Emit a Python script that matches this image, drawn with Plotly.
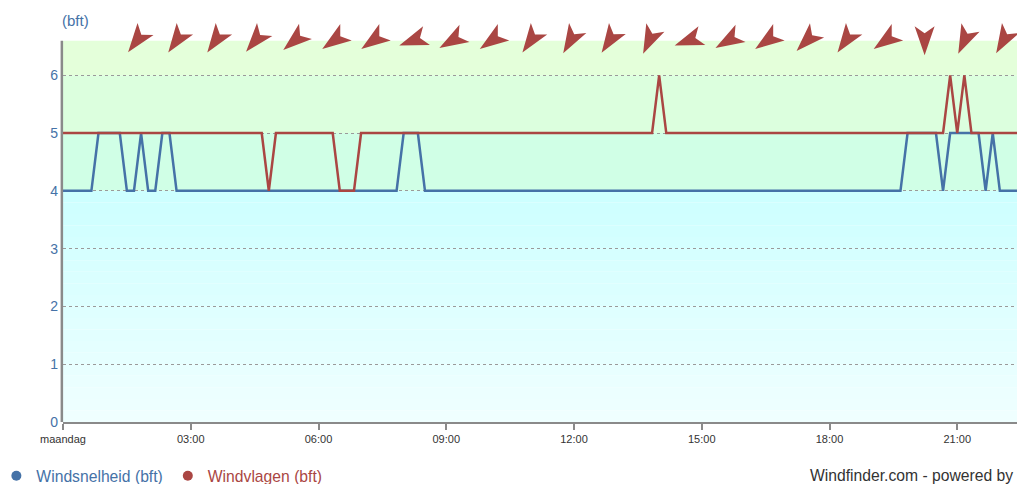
import math
import plotly.graph_objects as go

# ---------------- data ----------------
# 10-minute samples from 00:00 ("maandag") to 22:30
sample_minutes = list(range(0, 1360, 10))

# Windsnelheid (bft), one row per hour (6 samples)
wind_speed = [
    4, 4, 4, 4, 4, 5,
    5, 5, 5, 4, 4, 5,
    4, 4, 5, 5, 4, 4,
    4, 4, 4, 4, 4, 4,
    4, 4, 4, 4, 4, 4,
    4, 4, 4, 4, 4, 4,
    4, 4, 4, 4, 4, 4,
    4, 4, 4, 4, 4, 4,
    5, 5, 5, 4, 4, 4,
    4, 4, 4, 4, 4, 4,
    4, 4, 4, 4, 4, 4,
    4, 4, 4, 4, 4, 4,
    4, 4, 4, 4, 4, 4,
    4, 4, 4, 4, 4, 4,
    4, 4, 4, 4, 4, 4,
    4, 4, 4, 4, 4, 4,
    4, 4, 4, 4, 4, 4,
    4, 4, 4, 4, 4, 4,
    4, 4, 4, 4, 4, 4,
    4, 4, 4, 4, 4, 5,
    5, 5, 5, 5, 4, 5,
    5, 5, 5, 5, 4, 5,
    4, 4, 4, 4,
]

# Windvlagen (bft)
wind_gust = [
    5, 5, 5, 5, 5, 5,
    5, 5, 5, 5, 5, 5,
    5, 5, 5, 5, 5, 5,
    5, 5, 5, 5, 5, 5,
    5, 5, 5, 5, 5, 4,
    5, 5, 5, 5, 5, 5,
    5, 5, 5, 4, 4, 4,
    5, 5, 5, 5, 5, 5,
    5, 5, 5, 5, 5, 5,
    5, 5, 5, 5, 5, 5,
    5, 5, 5, 5, 5, 5,
    5, 5, 5, 5, 5, 5,
    5, 5, 5, 5, 5, 5,
    5, 5, 5, 5, 5, 5,
    6, 5, 5, 5, 5, 5,
    5, 5, 5, 5, 5, 5,
    5, 5, 5, 5, 5, 5,
    5, 5, 5, 5, 5, 5,
    5, 5, 5, 5, 5, 5,
    5, 5, 5, 5, 5, 5,
    5, 5, 5, 5, 5, 6,
    5, 6, 5, 5, 5, 5,
    5, 5, 5, 5,
]

# wind direction arrows (time in minutes, direction the wind comes FROM in degrees)
arrow_minutes = [104, 160, 215, 271, 326, 382, 437, 493, 548, 604, 659, 715,
                 770, 826, 881, 937, 992, 1048, 1103, 1159, 1214, 1270, 1325]
arrow_from_deg = [37, 35, 35, 40, 50, 55, 55, 70, 60, 55, 35, 30,
                  33, 25, 70, 60, 55, 45, 35, 55, 0, 25, 30]

x_tick_hours = [0, 3, 6, 9, 12, 15, 18, 21]
x_tick_labels = ["maandag", "03:00", "06:00", "09:00", "12:00", "15:00", "18:00", "21:00"]
y_ticks = [0, 1, 2, 3, 4, 5, 6]

# ---------------- style ----------------
BLUE = "#4572A7"
RED = "#AA4643"
FONT = "Arial, Liberation Sans, sans-serif"
Y_TOP_BAND = 6.6
X_MAX_H = 22.45
Y_MAX = 7.13

x_hours = [m / 60 for m in sample_minutes]

fig = go.Figure()
fig.add_trace(go.Scatter(x=x_hours, y=wind_speed, mode="lines",
                         line=dict(color=BLUE, width=2.5), showlegend=False,
                         hoverinfo="skip"))
fig.add_trace(go.Scatter(x=x_hours, y=wind_gust, mode="lines",
                         line=dict(color=RED, width=2.5), showlegend=False,
                         hoverinfo="skip"))
# legend entries (circle symbols)
fig.add_trace(go.Scatter(x=[None], y=[None], mode="markers",
                         marker=dict(color=BLUE, size=10),
                         name=f"<span style='color:{BLUE}'>Windsnelheid (bft)</span>"))
fig.add_trace(go.Scatter(x=[None], y=[None], mode="markers",
                         marker=dict(color=RED, size=10),
                         name=f"<span style='color:{RED}'>Windvlagen (bft)</span>"))

shapes = []

# background bands
def lerp(c0, c1, f):
    return tuple(round(a + (b - a) * f) for a, b in zip(c0, c1))

n_slices = 20
c_bottom, c_top = (240, 255, 255), (204, 255, 255)
for i in range(n_slices):
    y0 = 4 * i / n_slices
    y1 = 4 * (i + 1) / n_slices
    c = lerp(c_bottom, c_top, (i + 0.5) / n_slices)
    shapes.append(dict(type="rect", xref="paper", x0=0, x1=1, yref="y", y0=y0, y1=y1,
                       fillcolor="rgb(%d,%d,%d)" % c, line=dict(width=0), layer="below"))
for (y0, y1, c) in [(4, 5, (208, 255, 230)), (5, 6, (220, 255, 222)), (6, Y_TOP_BAND, (228, 255, 218))]:
    shapes.append(dict(type="rect", xref="paper", x0=0, x1=1, yref="y", y0=y0, y1=y1,
                       fillcolor="rgb(%d,%d,%d)" % c, line=dict(width=0), layer="below"))

# y axis line (only up to the band top)
shapes.append(dict(type="line", xref="paper", x0=-0.0012, x1=-0.0012, yref="y", y0=0, y1=Y_TOP_BAND,
                   line=dict(color="#8a8a8a", width=2.5), layer="above"))

# direction arrows (pixel-sized paths anchored on data)
L, W, NOTCH = 29, 20, 7
for m, d in zip(arrow_minutes, arrow_from_deg):
    b = math.radians((d + 180) % 360)
    ux, uy = math.sin(b), math.cos(b)
    px, py = math.cos(b), -math.sin(b)
    h = L / 2
    pts = [
        (h * ux, h * uy),
        (-h * ux + W / 2 * px, -h * uy + W / 2 * py),
        (-(h - NOTCH) * ux, -(h - NOTCH) * uy),
        (-h * ux - W / 2 * px, -h * uy - W / 2 * py),
    ]
    path = "M" + " L".join("%.2f,%.2f" % p for p in pts) + " Z"
    shapes.append(dict(type="path", xref="x", yref="y", xsizemode="pixel", ysizemode="pixel",
                       xanchor=m / 60, yanchor=Y_TOP_BAND, path=path,
                       fillcolor=RED, line=dict(width=0), layer="above"))

# The page shows the figure with an 8px body offset, so the figure is sized 8px smaller.
fig.update_layout(
    width=1017, height=476,
    margin=dict(l=55, r=6, t=2, b=62, autoexpand=False),
    plot_bgcolor="white", paper_bgcolor="white",
    font=dict(family=FONT, color="#333333"),
    shapes=shapes,
    showlegend=True,
    legend=dict(orientation="h", x=-0.0697, xanchor="left", y=-0.131, yanchor="middle",
                font=dict(size=15.7, family=FONT), bgcolor="rgba(0,0,0,0)",
                itemwidth=30),
    xaxis=dict(range=[0, X_MAX_H], tickvals=x_tick_hours, ticktext=x_tick_labels,
               showgrid=False, zeroline=False, showline=True, linecolor="#8a8a8a", linewidth=2,
               ticks="outside", ticklen=6, tickwidth=1.5, tickcolor="#8a8a8a",
               tickfont=dict(size=11, color="#333333", family=FONT)),
    yaxis=dict(range=[0, Y_MAX], tickvals=y_ticks, showgrid=True, gridcolor="#9a9a9a",
               griddash="dot", gridwidth=1, zeroline=False, showline=False, ticks="",
               ticklabelstandoff=4,
               tickfont=dict(size=14, color=BLUE, family=FONT)),
    annotations=[
        dict(text="(bft)", xref="paper", yref="paper", x=0.0129, y=0.9757,
             xanchor="center", yanchor="middle", showarrow=False,
             font=dict(size=15, color=BLUE, family=FONT)),
        dict(text="Windfinder.com - powered by", xref="paper", yref="paper",
             x=0.9958, y=-0.131, xanchor="right", yanchor="middle", showarrow=False,
             font=dict(size=15.7, color="#333333", family=FONT)),
    ],
)

fig.write_html("out.html")
